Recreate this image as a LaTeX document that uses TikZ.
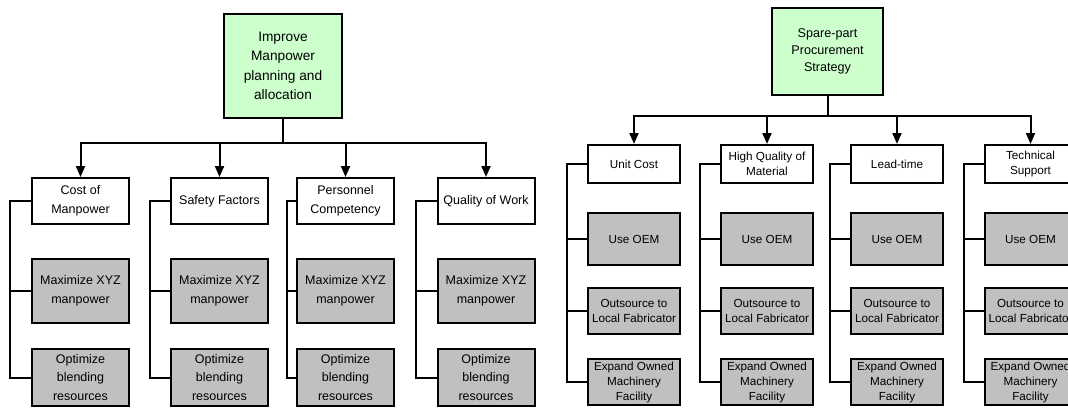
\documentclass[tikz,border=0pt]{standalone}
\usepackage{fontspec}
\setmainfont{Liberation Sans}
\usetikzlibrary{arrows.meta}
\definecolor{rootgreen}{RGB}{204,255,204}
\definecolor{leafgray}{RGB}{192,192,192}
\tikzset{
  box/.style={draw=black, line width=2pt, inner sep=0pt, align=center, text=black},
  lroot/.style={box, fill=rootgreen, minimum width=118pt, minimum height=104pt,
    font=\fontsize{13.7}{19.5}\selectfont},
  lhead/.style={box, fill=white, minimum width=97pt, minimum height=46pt,
    font=\fontsize{12.5}{18.5}\selectfont},
  lleaf/.style={box, fill=leafgray, minimum width=97pt,
    font=\fontsize{12.5}{18.5}\selectfont},
  rroot/.style={box, fill=rootgreen, minimum width=111pt, minimum height=87pt,
    font=\fontsize{12.6}{17}\selectfont},
  rhead/.style={box, fill=white, minimum width=92pt, minimum height=38pt,
    font=\fontsize{11.7}{15}\selectfont},
  rleaf/.style={box, fill=leafgray, minimum width=92pt,
    font=\fontsize{11.7}{15}\selectfont},
  conn/.style={draw=black, line width=2pt},
  arr/.style={-{Triangle[length=11pt,width=9pt]}}
}
\begin{document}
\begin{tikzpicture}[x=1pt,y=-1pt]
\useasboundingbox (0,0) rectangle (1068,407);

% ---- manpower planning tree ----
\node[lroot] (rootL) at (283,66) {Improve\\Manpower\\planning and\\allocation};
\coordinate (barL) at (283,143);
\draw[conn] (rootL.south) -- (barL);
\foreach \i/\cx/\sx/\lab in {1/80.5/10/{Cost of\\Manpower},
                             2/219.5/150/{Safety Factors},
                             3/345.5/287/{Personnel\\Competency},
                             4/486/416/{Quality of Work}}{
  \node[lhead] (hL\i) at (\cx,201) {\lab};
  \node[lleaf, minimum height=64pt] (mL\i) at (\cx,291) {Maximize XYZ\\manpower};
  \node[lleaf, minimum height=57pt] (oL\i) at (\cx,377.5) {Optimize\\blending\\resources};
  \coordinate (sL\i) at (\sx,201);
  \draw[conn,arr] (barL) -| (hL\i.north);
  \draw[conn] (hL\i.west) -- (sL\i) |- (oL\i.west);
  \draw[conn] (sL\i |- mL\i.west) -- (mL\i.west);
}

% ---- spare-part procurement tree ----
\node[rroot] (rootR) at (827.5,51.5) {Spare-part\\Procurement\\Strategy};
\coordinate (barR) at (827.5,116);
\draw[conn] (rootR.south) -- (barR);
\foreach \i/\cx/\sx/\lab in {1/634/567/{Unit Cost},
                             2/767/700/{High Quality of\\Material},
                             3/897/830/{Lead-time},
                             4/1030.5/964/{Technical\\Support}}{
  \node[rhead] (hR\i) at (\cx,164) {\lab};
  \node[rleaf, minimum height=52pt] (uR\i) at (\cx,239) {Use OEM};
  \node[rleaf, minimum height=46pt] (fR\i) at (\cx,311) {Outsource to\\Local Fabricator};
  \node[rleaf, minimum height=46pt] (eR\i) at (\cx,382) {Expand Owned\\Machinery\\Facility};
  \coordinate (sR\i) at (\sx,164);
  \draw[conn,arr] (barR) -| (hR\i.north);
  \draw[conn] (hR\i.west) -- (sR\i) |- (eR\i.west);
  \draw[conn] (sR\i |- uR\i.west) -- (uR\i.west);
  \draw[conn] (sR\i |- fR\i.west) -- (fR\i.west);
}
\end{tikzpicture}
\end{document}
